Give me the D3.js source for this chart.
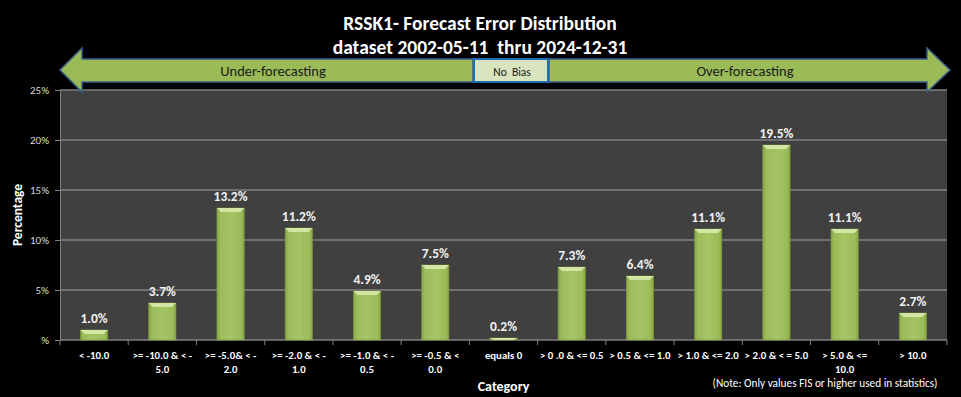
<!DOCTYPE html>
<html lang="en">
<head>
<meta charset="UTF-8">
<title>RSSK1 Forecast Error Distribution</title>
<script src="https://cdn.jsdelivr.net/npm/d3@7"></script>
<style>
  body { margin: 0; background: #000; }
  svg { display: block; font-family: Carlito, Calibri, Lato, sans-serif; }
  text { white-space: pre; }
</style>
</head>
<body>
<div id="chart"></div>
<script>
// data
const categories = [
  "< -10.0", ">= -10.0 & < -\n5.0", ">= -5.0& < -\n2.0", ">= -2.0 & < -\n1.0",
  ">= -1.0 & < -\n0.5", ">= -0.5 & <\n0.0", "equals 0", "> 0 .0 & <= 0.5",
  "> 0.5 & <= 1.0", "> 1.0 & <= 2.0", "> 2.0 & < = 5.0", "> 5.0 & <=\n10.0", "> 10.0"
];
const values = [1.0, 3.7, 13.2, 11.2, 4.9, 7.5, 0.2, 7.3, 6.4, 11.1, 19.5, 11.1, 2.7];
const yTicks = [0, 5, 10, 15, 20, 25];
const titleLines = ["RSSK1- Forecast Error Distribution", "dataset 2002-05-11\u00a0\u00a0thru 2024-12-31"];

const w = 961, h = 397;
const m = {left: 60, right: 14, top: 90, bottom: 57};

const svg = d3.select("#chart").append("svg").attr("width", w).attr("height", h);
svg.append("rect").attr("width", w).attr("height", h).attr("fill", "#000");

const x = d3.scaleBand().domain(categories).range([m.left, w - m.right]).paddingInner(0.6).paddingOuter(0.3);
const xb = d3.scaleBand().domain(categories).range([m.left, w - m.right]);
const y = d3.scaleLinear().domain([0, 25]).range([h - m.bottom, m.top]);

// gradients
const defs = svg.append("defs");
const g1 = defs.append("linearGradient").attr("id", "barg").attr("x1", 0).attr("x2", 1).attr("y1", 0).attr("y2", 0);
g1.append("stop").attr("offset", 0).attr("stop-color", "#86A544");
g1.append("stop").attr("offset", 0.12).attr("stop-color", "#9CBB59");
g1.append("stop").attr("offset", 0.5).attr("stop-color", "#A5C463");
g1.append("stop").attr("offset", 0.88).attr("stop-color", "#9CBB59");
g1.append("stop").attr("offset", 1).attr("stop-color", "#86A544");

// plot area
svg.append("rect")
  .attr("x", m.left).attr("y", m.top)
  .attr("width", w - m.left - m.right).attr("height", h - m.top - m.bottom)
  .attr("fill", "#404040");

svg.append("g").selectAll("line").data(yTicks.slice(1)).join("line")
  .attr("x1", m.left).attr("x2", w - m.right)
  .attr("y1", d => y(d)).attr("y2", d => y(d))
  .attr("stroke", "#808080").attr("stroke-width", 1.5);

// y axis
const yAxis = svg.append("g").attr("transform", `translate(${m.left},0)`)
  .call(d3.axisLeft(y).tickValues(yTicks).tickSize(5).tickPadding(6).tickFormat(d => d === 0 ? "%" : d + "%"));
yAxis.select(".domain").attr("stroke", "#808080");
yAxis.selectAll(".tick line").attr("stroke", "#808080");
yAxis.selectAll("text").attr("fill", "#d9d9d9").attr("font-size", 11).attr("font-family", "Carlito, Calibri, Lato, sans-serif");

// x axis baseline + ticks at band edges
svg.append("line").attr("x1", m.left).attr("x2", w - m.right)
  .attr("y1", y(0)).attr("y2", y(0)).attr("stroke", "#808080").attr("stroke-width", 1.5);
const edges = categories.map(c => xb(c)).concat([w - m.right]);
svg.append("g").selectAll("line").data(edges).join("line")
  .attr("x1", d => d).attr("x2", d => d)
  .attr("y1", y(0)).attr("y2", y(0) + 5).attr("stroke", "#808080");

// bars
const bars = svg.append("g").selectAll("g").data(values).join("g");
bars.append("rect")
  .attr("x", (d, i) => x(categories[i]))
  .attr("y", d => y(d))
  .attr("width", x.bandwidth())
  .attr("height", d => y(0) - y(d))
  .attr("fill", "url(#barg)")
  .attr("stroke", "#7D9A3E").attr("stroke-width", 0.6);
bars.append("path")
  .attr("d", (d, i) => {
    const x0 = x(categories[i]), x1 = x0 + x.bandwidth(), t = y(d);
    const b = Math.min(4, y(0) - t);
    return `M${x0},${t}L${x1},${t}L${x1 - 4},${t + b}L${x0 + 4},${t + b}Z`;
  })
  .attr("fill", "#D4E6A4");
bars.append("text")
  .attr("x", (d, i) => x(categories[i]) + x.bandwidth() / 2)
  .attr("y", d => y(d) - 7)
  .attr("text-anchor", "middle")
  .attr("fill", "#f2f2f2").attr("font-size", 13.5).attr("font-weight", "bold")
  .text(d => d.toFixed(1) + "%");

// category labels
const cl = svg.append("g").selectAll("text").data(categories).join("text")
  .attr("x", d => xb(d) + xb.bandwidth() / 2)
  .attr("y", y(0) + 19)
  .attr("text-anchor", "middle")
  .attr("fill", "#fff").attr("font-size", 10.8).attr("font-weight", "bold");
cl.selectAll("tspan").data(d => d.split("\n")).join("tspan")
  .attr("x", function() { return d3.select(this.parentNode).attr("x"); })
  .attr("dy", (d, i) => i === 0 ? 0 : 14)
  .text(d => d);

// axis titles
svg.append("text").attr("x", (m.left + w - m.right) / 2).attr("y", 391)
  .attr("text-anchor", "middle").attr("fill", "#fff").attr("font-size", 14).attr("font-weight", "bold")
  .text("Category");
svg.append("text").attr("transform", `translate(22,${(m.top + h - m.bottom) / 2}) rotate(-90)`)
  .attr("text-anchor", "middle").attr("fill", "#fff").attr("font-size", 13.5).attr("font-weight", "bold")
  .text("Percentage");
svg.append("text").attr("x", 825).attr("y", 387)
  .attr("text-anchor", "middle").attr("fill", "#fff").attr("font-size", 11.3)
  .text("(Note: Only values FIS or higher used in statistics)");

// title
svg.append("g").selectAll("text").data(titleLines).join("text")
  .attr("x", 480).attr("y", (d, i) => 30 + i * 24)
  .attr("text-anchor", "middle").attr("fill", "#fff")
  .attr("font-size", 19.5).attr("font-weight", "bold")
  .text(d => d);

// bias arrows
svg.append("path")
  .attr("d", "M60,70 L82,48 L82,59 L473,59 L473,82 L82,82 L82,92 Z")
  .attr("fill", "#9BBB59").attr("stroke", "#3A5F8B").attr("stroke-width", 1.5);
svg.append("path")
  .attr("d", "M549,59 L927,59 L927,48 L950,70 L927,92 L927,82 L549,82 Z")
  .attr("fill", "#9BBB59").attr("stroke", "#3A5F8B").attr("stroke-width", 1.5);
svg.append("rect").attr("x", 474).attr("y", 59).attr("width", 74).attr("height", 23)
  .attr("fill", "#D7E4BD").attr("stroke", "#1F6EB5").attr("stroke-width", 2);
const bl = [["Under-forecasting", 273, 14.5], ["No\u00a0\u00a0Bias", 512, 11.5], ["Over-forecasting", 745, 14.5]];
svg.append("g").selectAll("text").data(bl).join("text")
  .attr("x", d => d[1]).attr("y", 76)
  .attr("text-anchor", "middle").attr("fill", "#1a1a1a")
  .attr("font-size", d => d[2])
  .text(d => d[0]);
</script>
</body>
</html>
